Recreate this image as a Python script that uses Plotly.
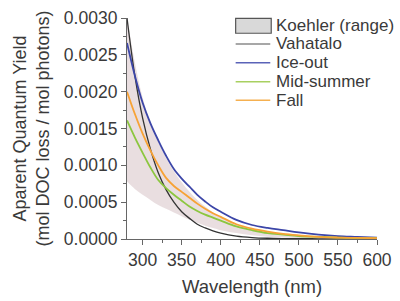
import plotly.graph_objects as go

wavelength = [280, 290, 300, 310, 320, 330, 340, 350, 360, 370, 380, 390, 400,
              420, 440, 460, 480, 500, 525, 550, 575, 600]

koehler_upper = [0.00300, 0.00240, 0.00192, 0.00158, 0.00132, 0.00110, 0.00092, 0.00077,
                 0.00064, 0.00053, 0.00044, 0.00036, 0.00030, 0.00020, 0.00013, 0.00009,
                 0.00006, 0.00004, 0.000025, 0.000015, 0.000009, 0.000005]
koehler_lower = [0.00078, 0.00068, 0.00060, 0.00053, 0.00046, 0.00041, 0.00036, 0.00031,
                 0.00026, 0.00022, 0.00018, 0.00015, 0.00012, 0.00008, 0.00005, 0.00003,
                 0.00002, 0.000012, 0.000008, 0.000005, 0.000003, 0.000002]
vahatalo = [0.00300, 0.00222, 0.00164, 0.00122, 0.00090, 0.00067, 0.00050, 0.00037,
            0.00028, 0.00020, 0.00015, 0.00011, 0.00008, 0.00004, 0.00002, 0.00001,
            0.000006, 0.000004, 0.000003, 0.000002, 0.0000015, 0.000001]
ice_out = [0.00266, 0.00222, 0.00185, 0.00157, 0.00134, 0.00113, 0.00095, 0.00082,
           0.00071, 0.00060, 0.00051, 0.00043, 0.00037, 0.00026, 0.00019, 0.00015,
           0.00012, 0.00009, 0.00006, 0.00004, 0.00003, 0.00002]
mid_summer = [0.00161, 0.00138, 0.00117, 0.00097, 0.00080, 0.00069, 0.00060, 0.00052,
              0.00044, 0.00038, 0.00033, 0.00029, 0.00025, 0.00017, 0.00012, 0.00008,
              0.00006, 0.00004, 0.00003, 0.00002, 0.000012, 0.00001]
fall = [0.00200, 0.00170, 0.00143, 0.00120, 0.00100, 0.00083, 0.00072, 0.00064,
        0.00056, 0.00048, 0.00041, 0.00035, 0.00030, 0.00020, 0.00014, 0.00010,
        0.00007, 0.00005, 0.00003, 0.00002, 0.000015, 0.00001]

y_ticks = [0.0, 0.0005, 0.0010, 0.0015, 0.0020, 0.0025, 0.0030]
x_ticks = [300, 350, 400, 450, 500, 550, 600]

legend_labels = ["Koehler (range)", "Vahatalo", "Ice-out", "Mid-summer", "Fall"]

FONT = "Arial, Liberation Sans, sans-serif"
TXT = "#3a3a3a"

# layout geometry (pixels)
W, H = 400, 301
ML, MR, MT, MB = 127, 13, 8, 54
PW, PH = W - ML - MR, H - MT - MB


def fx(px):
    return (px - ML) / PW


def fy(py):
    return (H - MB - py) / PH


fig = go.Figure()

# Koehler range shading
fig.add_trace(go.Scatter(
    x=wavelength + wavelength[::-1],
    y=koehler_upper + koehler_lower[::-1],
    fill="toself", fillcolor="rgba(200,172,178,0.40)",
    line=dict(width=0, shape="spline"), mode="lines",
    hoverinfo="skip", showlegend=False,
))

series = [
    ("Vahatalo", vahatalo, "#333333", 1.3),
    ("Ice-out", ice_out, "#3c46a8", 1.8),
    ("Mid-summer", mid_summer, "#8cc63f", 1.8),
    ("Fall", fall, "#f7a235", 1.8),
]
for name, vals, col, w in series:
    fig.add_trace(go.Scatter(x=wavelength, y=vals, name=name, mode="lines",
                             showlegend=False,
                             line=dict(color=col, width=w, shape="spline")))

# manual legend
shapes = []
annotations = []
row_y = [16, 36, 56.5, 77, 97]
shapes.append(dict(type="rect", xref="paper", yref="paper",
                   x0=fx(240), x1=fx(277), y0=fy(8.5), y1=fy(24.5),
                   fillcolor="#d9d9d9", line=dict(color="#555555", width=1.2)))
leg_colors = [None, "#8a8a8a", "#5a63b8", "#a8d060", "#f5b050"]
for i, lab in enumerate(legend_labels):
    if i > 0:
        shapes.append(dict(type="line", xref="paper", yref="paper",
                           x0=fx(240), x1=fx(276), y0=fy(row_y[i]), y1=fy(row_y[i]),
                           line=dict(color=leg_colors[i], width=1.5)))
    annotations.append(dict(text=lab, xref="paper", yref="paper",
                            x=fx(280), y=fy(row_y[i]), xanchor="left", yanchor="middle",
                            showarrow=False, font=dict(size=17, color=TXT)))

fig.update_layout(
    width=W, height=H,
    margin=dict(l=ML, r=MR, t=MT, b=MB),
    paper_bgcolor="white", plot_bgcolor="white",
    font=dict(family=FONT, color=TXT, size=17),
    showlegend=False,
    shapes=shapes, annotations=annotations,
)
fig.update_xaxes(
    range=[280, 600], tickvals=x_ticks, ticks="outside", ticklen=5, tickwidth=1,
    tickcolor="#666", showline=True, linecolor="#666", linewidth=1.2,
    showgrid=False, zeroline=False, tickfont=dict(size=17.5, color=TXT),
    ticklabeloverflow="allow",
    minor=dict(dtick=25, tick0=275, ticks="outside", ticklen=3, tickcolor="#666"),
    title=dict(text="Wavelength (nm)", font=dict(size=18.5, color=TXT), standoff=10),
)
fig.update_yaxes(
    range=[0, 0.0030], tickvals=y_ticks, tickformat=".4f", ticks="outside", ticklen=5,
    tickwidth=1, tickcolor="#666", showline=True, linecolor="#666", linewidth=1.2,
    showgrid=False, zeroline=False, tickfont=dict(size=17.5, color=TXT),
    ticklabeloverflow="allow",
    minor=dict(dtick=0.00025, tick0=0, ticks="outside", ticklen=3, tickcolor="#666"),
    title=dict(text="Aparent Quantum Yield<br>(mol DOC loss / mol photons)",
               font=dict(size=18, color=TXT), standoff=9),
)

fig.write_html("out.html")
